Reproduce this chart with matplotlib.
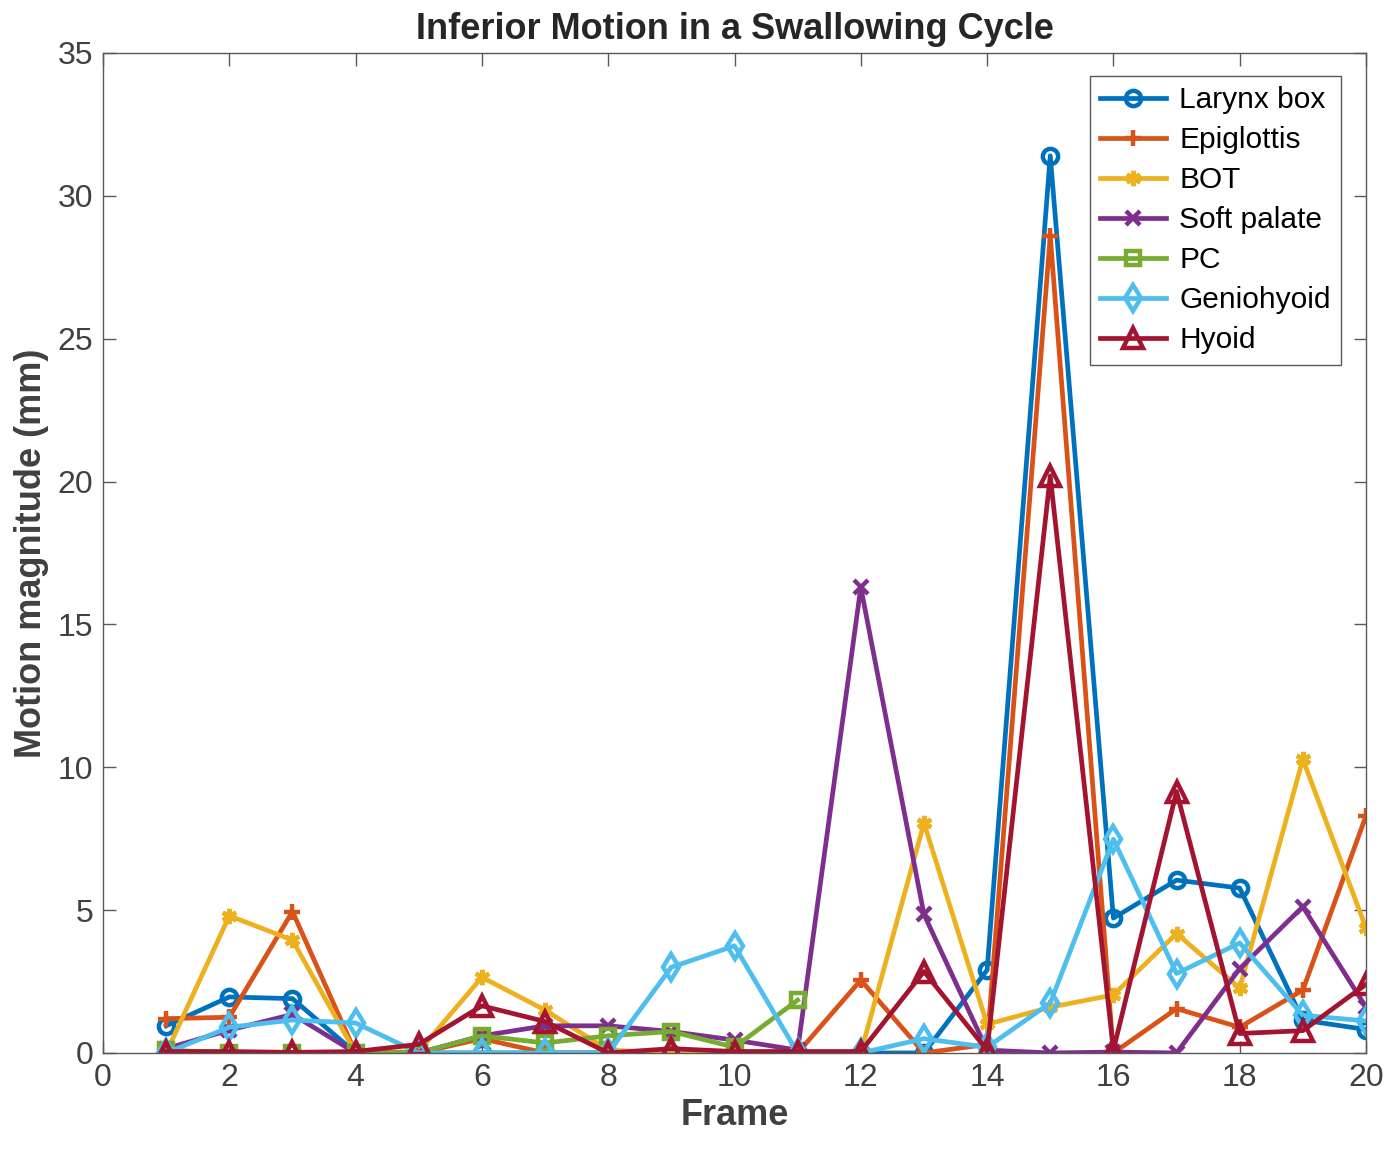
import numpy as np
import matplotlib.pyplot as plt

plt.rcParams['font.family'] = ['Liberation Sans', 'DejaVu Sans']

frames = np.arange(1, 21)

larynx_box = [0.95, 1.96, 1.9, 0.0, 0.0, 0.0, 0.0, 0.0, 0.0, 0.0,
              0.0, 0.0, 0.0, 2.9, 31.4, 4.72, 6.05, 5.77, 1.15, 0.82]
epiglottis = [1.2, 1.25, 4.95, 0.0, 0.0, 0.5, 0.0, 0.0, 0.0, 0.0,
              0.0, 2.55, 0.0, 0.3, 28.6, 0.0, 1.55, 0.9, 2.2, 8.3]
bot = [0.0, 4.8, 3.95, 0.0, 0.05, 2.65, 1.5, 0.1, 0.0, 0.05,
       0.0, 0.0, 8.05, 1.0, 1.6, 2.03, 4.18, 2.27, 10.28, 4.37]
soft_palate = [0.15, 0.8, 1.35, 0.0, 0.0, 0.6, 0.95, 0.95, 0.75, 0.45,
               0.1, 16.3, 4.85, 0.1, 0.0, 0.03, 0.0, 2.95, 5.12, 1.6]
# PC only tracked up to frame 11
pc = [0.1, 0.0, 0.0, 0.0, 0.0, 0.6, 0.35, 0.6, 0.75, 0.2,
      1.85, np.nan, np.nan, np.nan, np.nan, np.nan, np.nan, np.nan, np.nan, np.nan]
geniohyoid = [0.0, 0.9, 1.15, 1.05, 0.0, 0.0, 0.0, 0.0, 3.0, 3.75,
              0.0, 0.0, 0.5, 0.2, 1.75, 7.48, 2.78, 3.85, 1.32, 1.12]
hyoid = [0.05, 0.05, 0.02, 0.05, 0.3, 1.65, 1.1, 0.0, 0.15, 0.05,
         0.05, 0.05, 2.85, 0.1, 20.2, 0.1, 9.15, 0.68, 0.78, 2.4]

series = [("Larynx box", larynx_box, '#0072BD', 'o', 11),
          ("Epiglottis", epiglottis, '#D95319', '+', 12),
          ("BOT", bot, '#EDB120', (6, 2, 0), 11),
          ("Soft palate", soft_palate, '#7E2F8E', 'x', 10),
          ("PC", pc, '#77AC30', 's', 10),
          ("Geniohyoid", geniohyoid, '#4DBEEE', 'd', 13),
          ("Hyoid", hyoid, '#A2142F', '^', 15)]

fig = plt.figure(figsize=(13.96, 11.49), dpi=100)
ax = fig.add_axes([0.0738, 0.0836, 0.9047, 0.8703])

for name, vals, col, mk, ms in series:
    ax.plot(frames, vals, color=col, linewidth=3.4, marker=mk, markersize=ms,
            markerfacecolor='none', markeredgecolor=col, markeredgewidth=3.2,
            label=name)

ax.set_xlim(0, 20)
ax.set_ylim(0, 35)
ax.set_xticks(np.arange(0, 21, 2))
ax.set_yticks(np.arange(0, 36, 5))

grey = '#404040'
for s in ax.spines.values():
    s.set_color('#595959')
    s.set_linewidth(1.0)
ax.tick_params(direction='in', length=9, width=1, colors='#595959',
               labelsize=23, top=True, right=True, pad=7)
for lab in ax.get_xticklabels() + ax.get_yticklabels():
    lab.set_color(grey)

ax.set_xlabel("Frame", fontsize=26, fontweight='bold', color=grey, labelpad=4)
ax.set_ylabel("Motion magnitude (mm)", fontsize=26, fontweight='bold', color=grey, labelpad=6)
ax.set_title("Inferior Motion in a Swallowing Cycle", fontsize=26, fontweight='bold',
             color='#262626', pad=10)

leg = ax.legend(loc='upper right', bbox_to_anchor=(0.9805, 0.977), fontsize=21.5,
                fancybox=False, framealpha=1, edgecolor='#595959',
                handlelength=2.2, handletextpad=0.45, labelspacing=0.4,
                borderpad=0.35, borderaxespad=0)
leg.get_frame().set_linewidth(1.0)

fig.savefig("out.png", dpi=100)
